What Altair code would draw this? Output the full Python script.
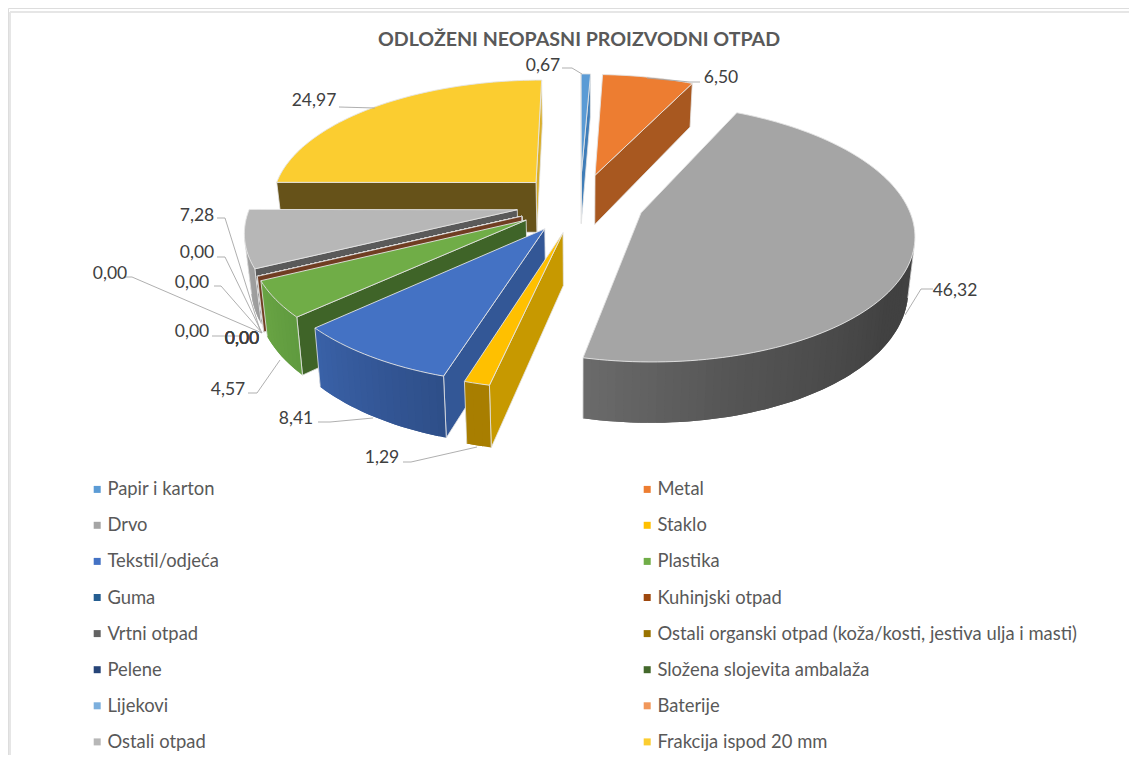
import math
import altair as alt
import pandas as pd

TITLE = "ODLOŽENI NEOPASNI PROIZVODNI OTPAD"
NAMES = ["Papir i karton", "Metal", "Drvo", "Staklo", "Tekstil/odjeća", "Plastika", "Guma",
         "Kuhinjski otpad", "Vrtni otpad", "Ostali organski otpad (koža/kosti, jestiva ulja i masti)",
         "Pelene", "Složena slojevita ambalaža", "Lijekovi", "Baterije", "Ostali otpad",
         "Frakcija ispod 20 mm"]
VALUES = [0.67, 6.50, 46.32, 1.29, 8.41, 4.57, 0.00, 0.00, 0.00, 0.00, 0.00, 0.00, 0.00, 0.00,
          7.28, 24.97]
COLORS = ["#5B9BD5", "#ED7D31", "#A5A5A5", "#FFC000", "#4472C4", "#70AD47", "#255E91", "#9E480E",
          "#636363", "#997300", "#264478", "#43682B", "#7CAFDD", "#F1975A", "#B7B7B7", "#FBCD30"]

# ---- styling / projection of the exploded 3-D pie (pixels of the svg = page - 8) ----
CX, CY = 580 - 8, 203 - 8
AX, AY, PERSP = 266.0, 123.5, 0.15
EXPLODE, DEPTH, CONVERGE = 0.24, 51.0, 0.02
EDGE = "#e4e4e4"
# painter's order, back to front
DRAW_ORDER = [15, 0, 1, 14, 13, 12, 11, 10, 9, 8, 6, 7, 5, 2, 4, 3]
# colours of the radial walls (start edge, end edge)
RADIAL = {0: "#3f7db8", 1: "#a85820", 2: "#555555", 3: "#c79900", 4: "#335796", 5: "#3f6428",
          6: "#1c4669", 7: "#703d22", 8: "#4a4a4a", 9: "#735600", 10: "#1c3359", 11: "#324e20",
          12: "#5d83a6", 13: "#b57143", 14: "#5a5a5a", 15: "#665219"}
RADIAL_END = {15: "#d9ae2a"}
# colours of the outer wall as (angle, colour) stops
OUTER = {2: [(90, "#434343"), (125, "#414141"), (165, "#555555"), (193, "#6b6b6b")],
         3: [(192, "#a87e00"), (198, "#a87e00")],
         4: [(197, "#2e4e88"), (228, "#3a62a8")],
         5: [(227, "#5f9a3f"), (245, "#6aa544")],
         14: [(244, "#9c9c9c"), (271, "#aaaaaa")],
         15: [(270, "#a88a2a"), (360, "#a88a2a")],
         1: [(2, "#a85820"), (26, "#a85820")],
         0: [(0, "#3f7db8"), (3, "#3f7db8")]}

LABEL_POS = [(543, 65.5), (721, 77.5), (955, 290.5), (382, 457.5), (296, 418.5), (228, 389.5), (242, 338.5),
             (242, 338.5), (242, 338.5), (242, 338.5), (192, 331.5), (110, 273.5), (192, 282.5), (197, 252.5),
             (197, 215.5), (314, 101)]
LEADERS = [[(562, 68), (572, 68), (582, 74)],
           [(700, 82), (690, 82), (647, 78)],
           [(933, 289), (921, 289), (905, 315)],
           [(403, 462), (411, 462), (477, 447)],
           [(318, 422), (330, 422), (373, 418)],
           [(248, 393), (257, 393), (280, 360)],
           [(212, 336), (240, 336)],
           [(124, 277), (132, 277), (262, 333)],
           [(214, 286), (221, 286), (262, 333)],
           [(217, 257), (225, 257), (262, 333)],
           [(217, 218), (225, 218), (260, 330)],
           [(339, 107), (375, 108)]]


def hex2rgb(h):
    return [int(h[i:i + 2], 16) for i in (1, 3, 5)]


def stop_colour(stops, a):
    if a <= stops[0][0]:
        return stops[0][1]
    for (a0, c0), (a1, c1) in zip(stops, stops[1:]):
        if a <= a1:
            t = (a - a0) / (a1 - a0)
            r = [round(u + (v - u) * t) for u, v in zip(hex2rgb(c0), hex2rgb(c1))]
            return "#%02x%02x%02x" % tuple(r)
    return stops[-1][1]


def project(wx, wy, low=False):
    d = 1 + PERSP * wy
    x = AX * wx / d
    y = -AY * wy / d
    if low:
        x *= 1 - CONVERGE
        y += DEPTH / d
    return [CX + x, CY + y]


def feat(kind, pts, fill, stroke, sw):
    if kind == "Polygon":
        geom = {"type": "Polygon", "coordinates": [[list(p) for p in pts] + [list(pts[0])]]}
    else:
        geom = {"type": "LineString", "coordinates": [list(p) for p in pts]}
    return {"type": "Feature", "geometry": geom,
            "properties": {"fill": fill, "stroke": stroke, "sw": sw}}


def area(q):
    return sum(q[i][0] * q[(i + 1) % len(q)][1] - q[(i + 1) % len(q)][0] * q[i][1] for i in range(len(q)))


total = sum(VALUES)
starts = []
acc = 0.0
for v in VALUES:
    starts.append(acc)
    acc += v / total * 360

features = []
for i in DRAW_ORDER:
    a0 = starts[i]
    a1 = a0 + VALUES[i] / total * 360
    mid = math.radians((a0 + a1) / 2)
    ox, oy = EXPLODE * math.sin(mid), EXPLODE * math.cos(mid)

    def rim(a):
        r = math.radians(a)
        return ox + math.sin(r), oy + math.cos(r)

    # radial walls
    for p, q, col in [(rim(a1), (ox, oy), RADIAL_END.get(i, RADIAL[i])), ((ox, oy), rim(a0), RADIAL[i])]:
        quad = [project(*p), project(*q), project(*q, low=True), project(*p, low=True)]
        if area(quad) < 0:
            features.append(feat("Polygon", quad, col, EDGE, 0.8))
    if VALUES[i] == 0:
        continue
    # outer wall: overlapping strips, each painted over the tail of the one before
    n = max(1, int((a1 - a0) / 1.5))
    step = (a1 - a0) / n
    corners = []
    for k in range(n):
        s0, s1 = a0 + step * k, a0 + step * (k + 1)
        quad = [project(*rim(s0)), project(*rim(s1)), project(*rim(s1), low=True), project(*rim(s0), low=True)]
        if area(quad) < 0:
            s2 = min(s1 + step, a1)
            band = [project(*rim(s0)), project(*rim(s1)), project(*rim(s2)),
                    project(*rim(s2), low=True), project(*rim(s1), low=True), project(*rim(s0), low=True)]
            c = stop_colour(OUTER[i], (s0 + s1) / 2)
            features.append(feat("Polygon", band, c, "none", 0))
            corners += [s0, s1]
    for s in ([corners[0], corners[-1]] if corners else []):
        features.append(feat("LineString", [project(*rim(s)), project(*rim(s), low=True)], "none", EDGE, 0.8))
    # top face
    top = [project(ox, oy)] + [project(*rim(a0 + step * k)) for k in range(n + 1)]
    features.append(feat("Polygon", top, COLORS[i], EDGE, 0.9))

for line in LEADERS:
    features.append(feat("LineString", [(x - 8, y - 8) for x, y in line], "none", "#a6a6a6", 0.9))

FONT = "Lato"
TXT = "#595959"
W, H = 1121, 747

pie = alt.Chart(alt.Data(values=features)).mark_geoshape().encode(
    fill=alt.Fill("properties.fill:N", scale=None),
    stroke=alt.Stroke("properties.stroke:N", scale=None),
    strokeWidth=alt.StrokeWidth("properties.sw:Q", scale=None),
).project(type="identity", scale=1, translate=[0, 0])

labels_df = pd.DataFrame({
    "t": [f"{v:.2f}".replace(".", ",") for v in VALUES],
    "x": [p[0] - 8 for p in LABEL_POS],
    "y": [p[1] - 8 for p in LABEL_POS],
})
labels = alt.Chart(labels_df).mark_text(font=FONT, fontSize=17.5, color="#404040").encode(
    x=alt.X("x:Q", scale=None), y=alt.Y("y:Q", scale=None), text="t:N")

title = alt.Chart(pd.DataFrame({"t": [TITLE]})).mark_text(
    font=FONT, fontSize=19.6, fontWeight="bold", color=TXT).encode(
    x=alt.value(579 - 8), y=alt.value(40 - 8), text="t:N")

frame_df = pd.DataFrame({"k": ["a"]})
frame_h = alt.Chart(frame_df).mark_rule(color="#e6e6e6", strokeWidth=2).encode(
    x=alt.value(2), x2=alt.value(W), y=alt.value(4))
frame_v = alt.Chart(frame_df).mark_rule(color="#e6e6e6", strokeWidth=2).encode(
    x=alt.value(2), y=alt.value(4), y2=alt.value(H))

legend_df = pd.DataFrame({"name": NAMES})
legend = alt.Chart(legend_df).mark_square(size=0, opacity=0).encode(
    x=alt.value(0), y=alt.value(0),
    color=alt.Color("name:N", sort=NAMES, scale=alt.Scale(domain=NAMES, range=COLORS),
                    legend=alt.Legend(
                        title=None, orient="none", legendX=80, legendY=472, direction="horizontal",
                        columns=2, gridAlign="all", symbolType="square", symbolSize=49,
                        symbolOpacity=1, symbolStrokeWidth=0, labelFont=FONT, labelFontSize=18.4,
                        labelColor=TXT, labelLimit=600, labelOffset=1, rowPadding=17.1,
                        columnPadding=111, padding=0)))

chart = alt.layer(frame_h, frame_v, pie, labels, title, legend).properties(
    width=W, height=H, padding=0, autosize=alt.AutoSizeParams(type="none")
).configure_view(stroke=None).configure(background="white")

chart.save("out.html", embed_options={"renderer": "svg", "actions": False})
